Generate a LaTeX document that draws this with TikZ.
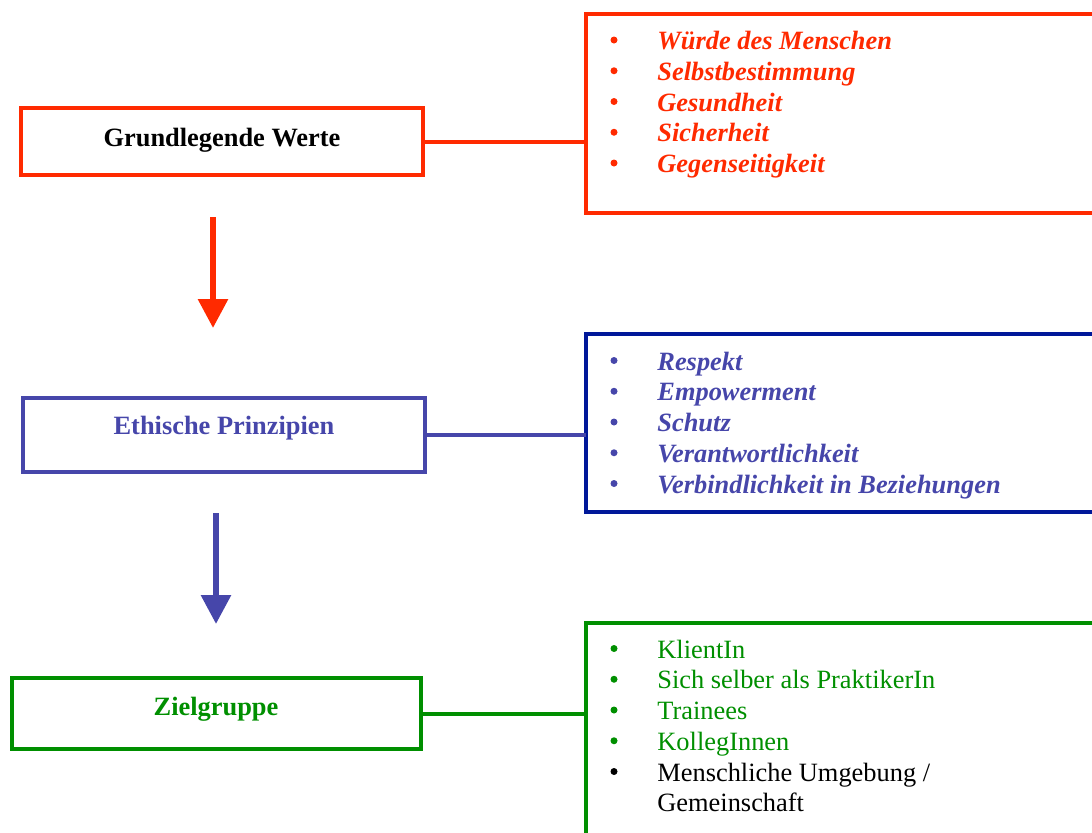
\documentclass[tikz,border=0pt]{standalone}
\usepackage{fontspec}
\setmainfont{Liberation Serif}
\usetikzlibrary{arrows.meta}

\definecolor{wertrot}{RGB}{255,42,0}
\definecolor{ethikblau}{RGB}{70,70,170}
\definecolor{ethikrand}{RGB}{0,24,153}
\definecolor{zielgruen}{RGB}{0,143,0}
\newcommand\grundschrift{\fontsize{13.2}{15.375}\selectfont}

\tikzset{
	hauptbox/.style={draw, line width=2pt, inner sep=0pt, outer sep=0pt, anchor=base, font=\grundschrift\bfseries},
	listbox/.style={draw, line width=2pt, anchor=north west, inner sep=0pt, outer sep=0pt, minimum width=254pt},
	punkt/.style={circle, fill, inner sep=0pt, minimum size=3.5pt, yshift=4.75pt},
	eintrag/.style={anchor=base west, inner sep=0pt, font=\grundschrift\bfseries\itshape},
	pfeil/.style={line width=3pt, -{Triangle[width=14.5pt,length=14.5pt]}},
	linie/.style={line width=2pt},
}

\begin{document}
\begin{tikzpicture}[x=0.5pt, y=-0.5pt, line join=miter]
	\clip (0,0) rectangle (1092,832);
	% linke Kaesten
	\node[hauptbox, draw=wertrot, minimum width=201pt, text height=18.85pt, text depth=14.5pt] (grundwerte) at (222,146) {Grundlegende Werte};
	\node[hauptbox, draw=ethikblau, text=ethikblau, minimum width=201pt, text height=18.25pt, text depth=18.9pt] (ethik) at (224,434) {Ethische Prinzipien};
	\node[hauptbox, draw=zielgruen, text=zielgruen, minimum width=204.5pt, text height=18.35pt, text depth=17.15pt] (ziel) at (216,715) {Zielgruppe};
	% rechte Kaesten
	\node[listbox, draw=wertrot, minimum height=99.75pt] (werteliste) at (585.5,13.5) {};
	\node[listbox, draw=ethikrand, minimum height=89pt] (ethikliste) at (585.5,333.5) {};
	\node[listbox, draw=zielgruen, minimum height=125pt] (zielliste) at (585.5,623) {};
	\draw[linie, wertrot] (grundwerte.east) -- (grundwerte.east -| werteliste.west);
	\draw[linie, ethikblau] (ethik.east) -- (ethik.east -| ethikliste.west);
	\draw[linie, zielgruen] (ziel.east) -- (ziel.east -| zielliste.west);
	% Pfeile
	\path (213,217) coordinate (rotA)
	(213,328) coordinate (rotB)
	(216,513) coordinate (blauA)
	(216,624) coordinate (blauB);
	\draw[pfeil, wertrot] (rotA) -- (rotB);
	\draw[pfeil, ethikblau] (blauA) -- (blauB);
	% Listen
	\foreach \t [count=\i] in {W\"urde des Menschen, Selbstbestimmung, Gesundheit, Sicherheit, Gegenseitigkeit}{
		\node[punkt, wertrot] (wp\i) at (614,{49.5+30.75*(\i-1)}) {};
		\node[eintrag, text=wertrot] (w\i) at (657,{49.5+30.75*(\i-1)}) {\t};
	}
	\foreach \t [count=\i] in {Respekt, Empowerment, Schutz, Verantwortlichkeit, Verbindlichkeit in Beziehungen}{
		\node[punkt, ethikblau] (ep\i) at (614,{370+30.75*(\i-1)}) {};
		\node[eintrag, text=ethikblau] (e\i) at (657,{370+30.75*(\i-1)}) {\t};
	}
	\foreach \t [count=\i] in {KlientIn, Sich selber als PraktikerIn, Trainees, KollegInnen}{
		\node[punkt, zielgruen] (zp\i) at (614,{658+30.75*(\i-1)}) {};
		\node[eintrag, font=\grundschrift, text=zielgruen] (z\i) at (657,{658+30.75*(\i-1)}) {\t};
	}
	\node[punkt, black] (zp5) at (614,781) {};
	\node[eintrag, font=\grundschrift, align=left] (z5) at (657,811.75) {Menschliche Umgebung /\\Gemeinschaft};
\end{tikzpicture}
\end{document}
